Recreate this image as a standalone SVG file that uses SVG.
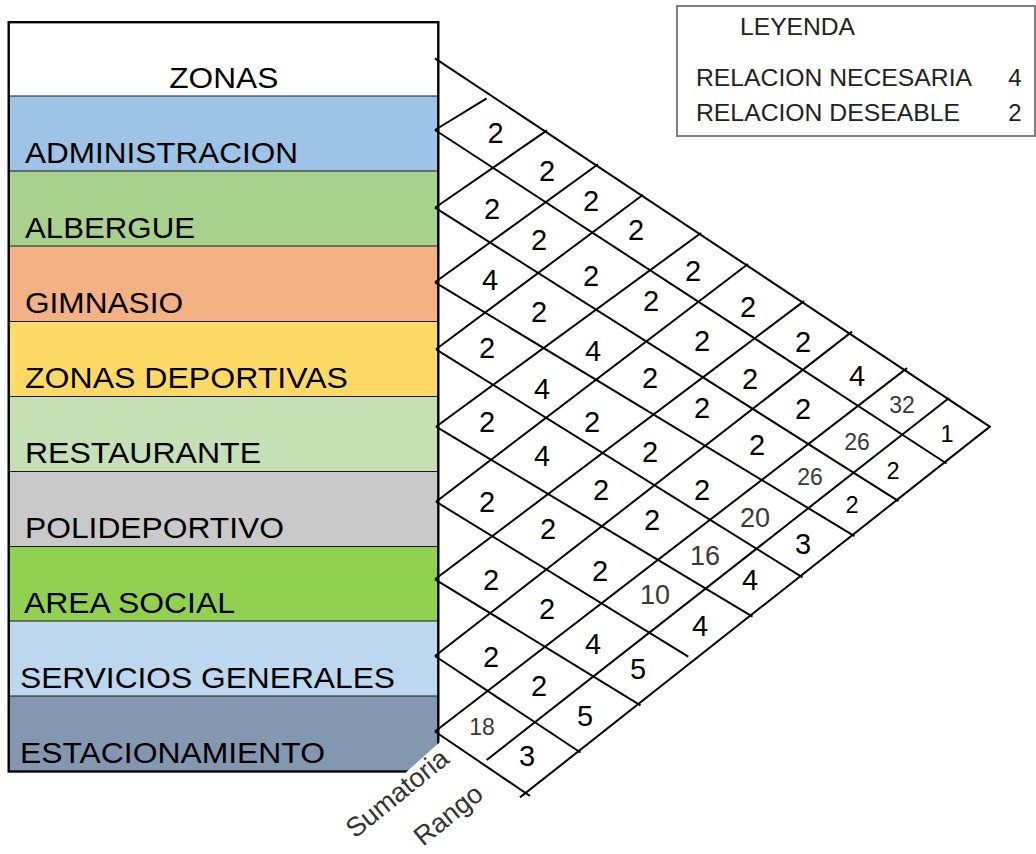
<svg xmlns="http://www.w3.org/2000/svg" width="1036" height="854" viewBox="0 0 1036 854">
<style>
.lbl{font-family:"Liberation Sans",Arial,sans-serif;font-size:29px;fill:#000}
.sep{stroke:#1a1a1a;stroke-width:1.2}
.ln{stroke:#000;stroke-width:2;fill:none}
.n{font-family:"Liberation Sans",Arial,sans-serif;font-size:29px;fill:#000;text-anchor:middle}
.g{font-family:"Liberation Sans",Arial,sans-serif;font-size:27px;fill:#3a3a3a;text-anchor:middle}
.s{font-family:"Liberation Sans",Arial,sans-serif;font-size:23px;fill:#3a3a3a;text-anchor:middle}
.k{font-family:"Liberation Sans",Arial,sans-serif;font-size:23.5px;fill:#000;text-anchor:middle}
.lg{font-family:"Liberation Sans",Arial,sans-serif;font-size:24px;fill:#222}
.rot{font-family:"Liberation Sans",Arial,sans-serif;font-size:27px;fill:#333}
</style>
<rect x="0" y="0" width="1036" height="854" fill="#fff"/>
<g id="zonas"><rect x="8.7" y="22.2" width="429.6" height="73.8" fill="#fff"/><text class="lbl" x="169.3" y="87.7" textLength="109" lengthAdjust="spacingAndGlyphs">ZONAS</text></g>
<g id="administracion"><rect x="8.7" y="96" width="429.6" height="75" fill="#9DC3E6"/><text class="lbl" x="25" y="163.3" textLength="273" lengthAdjust="spacingAndGlyphs">ADMINISTRACION</text></g>
<g id="albergue"><rect x="8.7" y="171" width="429.6" height="75" fill="#A9D18E"/><text class="lbl" x="25" y="238.3" textLength="170" lengthAdjust="spacingAndGlyphs">ALBERGUE</text></g>
<g id="gimnasio"><rect x="8.7" y="246" width="429.6" height="75.5" fill="#F4B183"/><text class="lbl" x="25" y="313.3" textLength="158" lengthAdjust="spacingAndGlyphs">GIMNASIO</text></g>
<g id="zonas-deportivas"><rect x="8.7" y="321.5" width="429.6" height="75" fill="#FFD966"/><text class="lbl" x="25" y="388.3" textLength="323" lengthAdjust="spacingAndGlyphs">ZONAS DEPORTIVAS</text></g>
<g id="restaurante"><rect x="8.7" y="396.5" width="429.6" height="75" fill="#C5E0B4"/><text class="lbl" x="25" y="463.3" textLength="236" lengthAdjust="spacingAndGlyphs">RESTAURANTE</text></g>
<g id="polideportivo"><rect x="8.7" y="471.5" width="429.6" height="75" fill="#C9C9C9"/><text class="lbl" x="25" y="538.3" textLength="259" lengthAdjust="spacingAndGlyphs">POLIDEPORTIVO</text></g>
<g id="area-social"><rect x="8.7" y="546.5" width="429.6" height="74.5" fill="#92D050"/><text class="lbl" x="24" y="613.3" textLength="211" lengthAdjust="spacingAndGlyphs">AREA SOCIAL</text></g>
<g id="servicios-generales"><rect x="8.7" y="621" width="429.6" height="75" fill="#BDD7EE"/><text class="lbl" x="20" y="687.8" textLength="375" lengthAdjust="spacingAndGlyphs">SERVICIOS GENERALES</text></g>
<g id="estacionamiento"><rect x="8.7" y="696" width="429.6" height="75.5" fill="#8497B0"/><text class="lbl" x="20" y="762.8" textLength="305" lengthAdjust="spacingAndGlyphs">ESTACIONAMIENTO</text></g>
<g id="table-lines">
<line class="sep" x1="8.7" y1="96" x2="438.3" y2="96"/>
<line class="sep" x1="8.7" y1="171" x2="438.3" y2="171"/>
<line class="sep" x1="8.7" y1="246" x2="438.3" y2="246"/>
<line class="sep" x1="8.7" y1="321.5" x2="438.3" y2="321.5"/>
<line class="sep" x1="8.7" y1="396.5" x2="438.3" y2="396.5"/>
<line class="sep" x1="8.7" y1="471.5" x2="438.3" y2="471.5"/>
<line class="sep" x1="8.7" y1="546.5" x2="438.3" y2="546.5"/>
<line class="sep" x1="8.7" y1="621" x2="438.3" y2="621"/>
<line class="sep" x1="8.7" y1="696" x2="438.3" y2="696"/>
<rect x="8.7" y="22.2" width="429.6" height="749.3" fill="none" stroke="#000" stroke-width="2.4"/>
<polygon points="441,740.9 441,774.5 403.6,774.5" fill="#fff"/>
</g>
<g id="connectors">
<line class="ln" x1="435" y1="58.3" x2="990.5" y2="427.2"/>
<line class="ln" x1="435" y1="130" x2="946.5" y2="463.5"/>
<line class="ln" x1="435" y1="207.7" x2="898.5" y2="501.1"/>
<line class="ln" x1="435" y1="282.3" x2="854.5" y2="536.1"/>
<line class="ln" x1="436" y1="349.3" x2="802.5" y2="577.3"/>
<line class="ln" x1="436" y1="426.7" x2="752.5" y2="616.6"/>
<line class="ln" x1="436" y1="501.7" x2="688.3" y2="656.7"/>
<line class="ln" x1="435" y1="579.3" x2="640.5" y2="705.3"/>
<line class="ln" x1="435" y1="656" x2="580.5" y2="752.5"/>
<line class="ln" x1="435" y1="731.5" x2="530" y2="796"/>
<line class="ln" x1="435" y1="130" x2="486.7" y2="98.3"/>
<line class="ln" x1="435" y1="207.7" x2="547" y2="130.4"/>
<line class="ln" x1="435" y1="282.3" x2="598" y2="164.3"/>
<line class="ln" x1="436" y1="349.3" x2="643" y2="194.7"/>
<line class="ln" x1="436" y1="426.7" x2="701" y2="233"/>
<line class="ln" x1="436" y1="501.7" x2="748" y2="264"/>
<line class="ln" x1="435" y1="579.3" x2="804" y2="301.1"/>
<line class="ln" x1="435" y1="656" x2="852" y2="331.6"/>
<line class="ln" x1="435" y1="731.5" x2="907" y2="368.1"/>
<line class="ln" x1="486.7" y1="760" x2="949" y2="398"/>
<line class="ln" x1="520" y1="797.4" x2="990.5" y2="426.1"/>
</g>
<g id="values">
<text class="n" x="495.5" y="143">2</text>
<text class="n" x="492" y="218.5">2</text>
<text class="n" x="490" y="290">4</text>
<text class="n" x="487" y="357.5">2</text>
<text class="n" x="487" y="432">2</text>
<text class="n" x="487" y="512">2</text>
<text class="n" x="491" y="589.5">2</text>
<text class="n" x="491" y="666.5">2</text>
<text class="s" x="482" y="735.2">18</text>
<text class="n" x="547" y="180.5">2</text>
<text class="n" x="539" y="250">2</text>
<text class="n" x="539" y="322">2</text>
<text class="n" x="542" y="398.5">4</text>
<text class="n" x="542" y="466">4</text>
<text class="n" x="548" y="538.5">2</text>
<text class="n" x="547" y="618.5">2</text>
<text class="n" x="539" y="695.5">2</text>
<text class="n" x="527" y="765.5">3</text>
<text class="n" x="591" y="210.5">2</text>
<text class="n" x="591" y="285.5">2</text>
<text class="n" x="593" y="361">4</text>
<text class="n" x="592" y="432">2</text>
<text class="n" x="601" y="500">2</text>
<text class="n" x="600" y="580.5">2</text>
<text class="n" x="593" y="653.5">4</text>
<text class="n" x="585" y="726">5</text>
<text class="n" x="636" y="239.5">2</text>
<text class="n" x="651" y="310.5">2</text>
<text class="n" x="650" y="387.5">2</text>
<text class="n" x="650" y="462">2</text>
<text class="n" x="652" y="529.5">2</text>
<text class="g" x="655" y="603.7">10</text>
<text class="n" x="638" y="678.5">5</text>
<text class="n" x="693" y="280.5">2</text>
<text class="n" x="702" y="350.5">2</text>
<text class="n" x="702" y="417.5">2</text>
<text class="n" x="702" y="499.5">2</text>
<text class="g" x="705" y="564.7">16</text>
<text class="n" x="700" y="636">4</text>
<text class="n" x="748" y="317">2</text>
<text class="n" x="750" y="388.5">2</text>
<text class="n" x="757" y="455">2</text>
<text class="g" x="755" y="526.7">20</text>
<text class="n" x="750" y="590">4</text>
<text class="n" x="803" y="352">2</text>
<text class="n" x="803" y="418.5">2</text>
<text class="s" x="810" y="485.2">26</text>
<text class="n" x="803" y="553.5">3</text>
<text class="n" x="857" y="385.5">4</text>
<text class="s" x="857" y="450.2">26</text>
<text class="k" x="852" y="512.5">2</text>
<text class="s" x="902" y="413.2">32</text>
<text class="k" x="893" y="478.5">2</text>
<text class="k" x="947" y="442">1</text>
</g>
<g id="axis-labels">
<text class="rot" transform="translate(355,839) rotate(-39)">Sumatoria</text>
<text class="rot" transform="translate(423,847) rotate(-39)">Rango</text>
</g>
<g id="legend">
<rect x="677" y="6" width="358" height="130" fill="#fff" stroke="#808080" stroke-width="2"/>
<text class="lg" x="740" y="35" font-size="21" textLength="115" lengthAdjust="spacingAndGlyphs">LEYENDA</text>
<text class="lg" x="696" y="86" textLength="276" lengthAdjust="spacingAndGlyphs">RELACION NECESARIA</text>
<text class="lg" x="1015" y="86" text-anchor="middle">4</text>
<text class="lg" x="696" y="121" textLength="264" lengthAdjust="spacingAndGlyphs">RELACION DESEABLE</text>
<text class="lg" x="1015" y="121" text-anchor="middle">2</text>
</g>
</svg>
